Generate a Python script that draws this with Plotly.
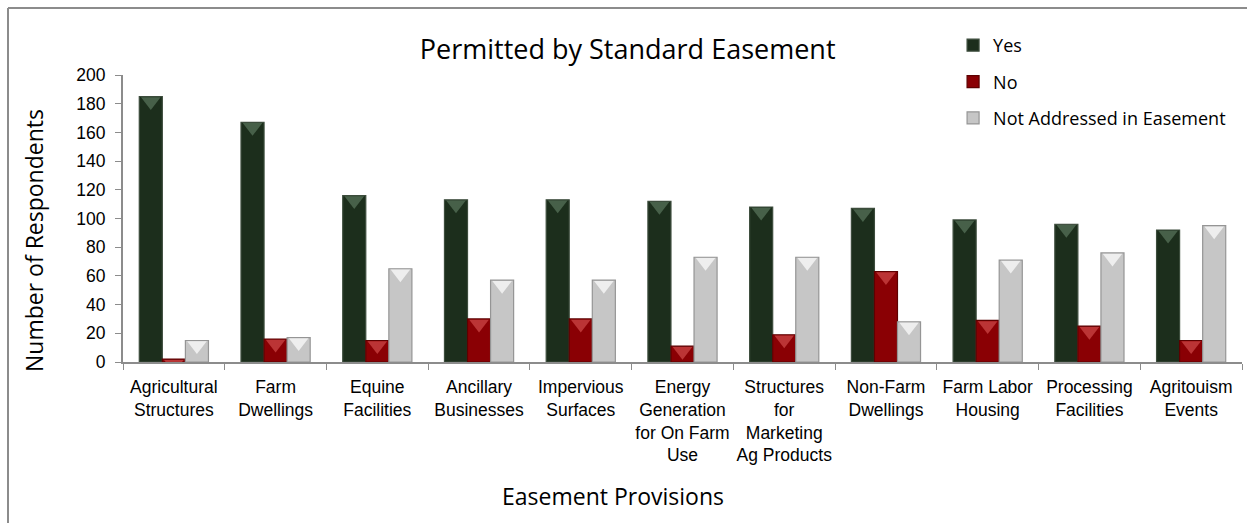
import plotly.graph_objects as go

categories = [
    "Agricultural<br>Structures", "Farm<br>Dwellings", "Equine<br>Facilities",
    "Ancillary<br>Businesses", "Impervious<br>Surfaces",
    "Energy<br>Generation<br>for On Farm<br>Use", "Structures<br>for<br>Marketing<br>Ag Products",
    "Non-Farm<br>Dwellings", "Farm Labor<br>Housing", "Processing<br>Facilities",
    "Agritouism<br>Events",
]
yes_vals = [185, 167, 116, 113, 113, 112, 108, 107, 99, 96, 92]
no_vals = [2, 16, 15, 30, 30, 11, 19, 63, 29, 25, 15]
na_vals = [15, 17, 65, 57, 57, 73, 73, 28, 71, 76, 95]
y_ticks = list(range(0, 201, 20))

_TICK_FONT = "Liberation Sans, Arial, sans-serif"
_TEXT_FONT = "Open Sans, Noto Sans, sans-serif"
_AXIS = "#8c8c8c"
_GAP = 0.32

# name, values, fill, edge, bevel highlight
series = [
    ("Yes", yes_vals, "#1c2e1c", "#3c4c3c", "#5a765c"),
    ("No", no_vals, "#8a0004", "#5e0000", "#d04a4a"),
    ("Not Addressed in Easement", na_vals, "#c6c6c6", "#959595", "#ffffff"),
]

fig = go.Figure()
for name, vals, colour, edge, _ in series:
    fig.add_trace(go.Bar(
        x=categories,
        y=vals,
        name=name,
        legendgroup=name,
        marker=dict(color=colour, line=dict(color=edge, width=1.2)),
    ))

# bevelled top of each bar (triangle hanging just under the bar top)
for name, vals, _, _, hi in series:
    fig.add_trace(go.Scatter(
        x=categories,
        y=vals,
        mode="markers",
        showlegend=False,
        hoverinfo="skip",
        marker=dict(symbol="triangle-down", size=17, color=hi, opacity=0.7,
                    line=dict(width=0), standoff=5),
    ))

fig.update_layout(
    width=1247,
    height=523,
    barmode="group",
    bargap=_GAP,
    bargroupgap=0,
    scattermode="group",
    scattergap=_GAP,
    plot_bgcolor="white",
    paper_bgcolor="white",
    margin=dict(l=123, r=5, t=75, b=161, autoexpand=False),
    title=dict(
        text="Permitted by Standard Easement",
        x=0.451, xref="paper", xanchor="center",
        y=1 - 50 / 523, yref="container", yanchor="middle",
        font=dict(family=_TEXT_FONT, size=27, color="black"),
    ),
    legend=dict(
        x=0.7418, y=1.1675, xanchor="left", yanchor="top",
        font=dict(family=_TEXT_FONT, size=18, color="black"),
        traceorder="grouped", tracegroupgap=10,
        itemwidth=30, bgcolor="rgba(0,0,0,0)",
    ),
    xaxis=dict(
        showline=True, linecolor=_AXIS, linewidth=2,
        ticks="outside", tickson="boundaries", tickcolor=_AXIS, ticklen=6,
        tickangle=0, automargin=False, ticklabelstandoff=8,
        tickfont=dict(family=_TICK_FONT, size=17.5, color="black"),
        showgrid=False,
    ),
    yaxis=dict(
        range=[0, 200], tickvals=y_ticks, automargin=False,
        showline=True, linecolor=_AXIS, linewidth=2,
        ticks="outside", tickcolor=_AXIS, ticklen=6, ticklabelstandoff=6,
        tickfont=dict(family=_TICK_FONT, size=17.5, color="black"),
        showgrid=False, zeroline=False,
    ),
    annotations=[
        dict(text="Number of Respondents", textangle=-90, x=(34 - 123) / 1119, y=(362 - 241) / 287,
             xref="paper", yref="paper", xanchor="center", yanchor="middle", showarrow=False,
             font=dict(family=_TEXT_FONT, size=23, color="black")),
        dict(text="Easement Provisions", x=(613 - 123) / 1119, y=-(496 - 362) / 287,
             xref="paper", yref="paper", xanchor="center", yanchor="middle", showarrow=False,
             font=dict(family=_TEXT_FONT, size=23, color="black")),
    ],
    shapes=[
        dict(type="line", xref="paper", yref="paper", x0=(8 - 123) / 1119, x1=1.01,
             y0=1 + (75 - 8) / 287, y1=1 + (75 - 8) / 287, line=dict(color=_AXIS, width=2)),
        dict(type="line", xref="paper", yref="paper", x0=(8 - 123) / 1119, x1=(8 - 123) / 1119,
             y0=1 + (75 - 8) / 287, y1=-0.7, line=dict(color=_AXIS, width=2)),
    ],
)

fig.write_html("out.html", config={"displayModeBar": False},
               post_script="document.body.style.margin='0';")
